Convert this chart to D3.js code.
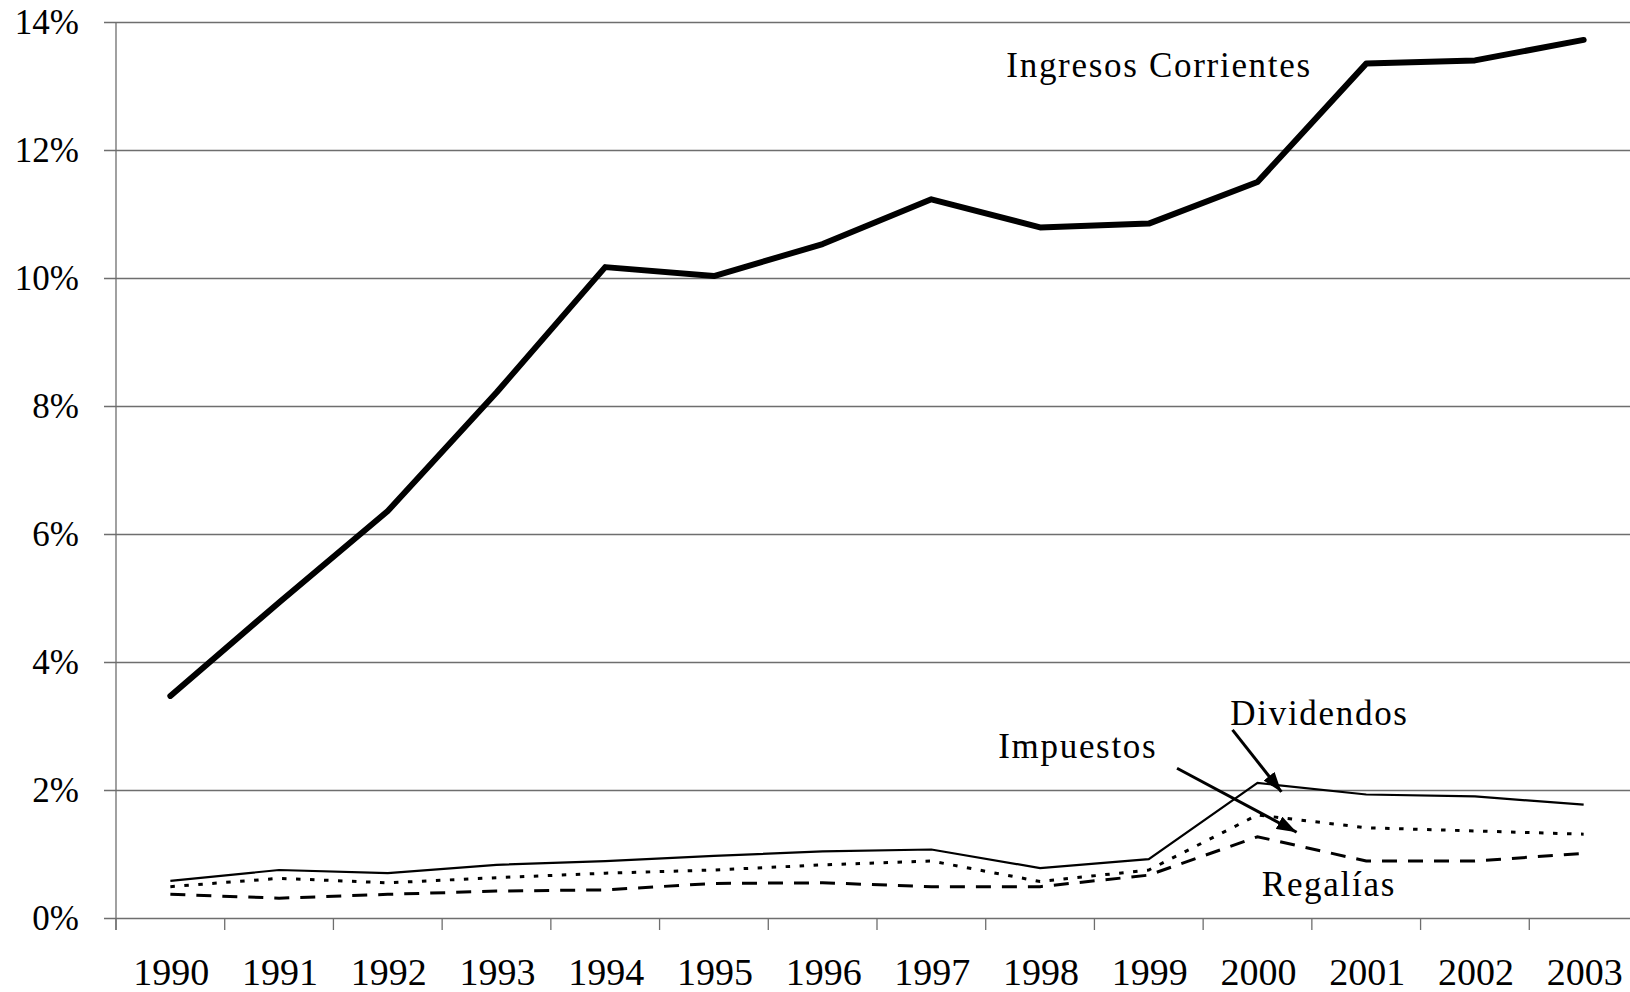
<!DOCTYPE html>
<html lang="es">
<head>
<meta charset="UTF-8">
<script src="https://d3js.org/d3.v7.min.js"></script>
<title>Ingresos</title>
<style>
    body { margin: 0; background: #fff; }
    svg text { font-family: "Liberation Serif", "Times New Roman", serif; fill: #000; }
</style>
</head>
<body>
<svg class="chart"></svg>
<script>
    // data (% of GDP)
    var years = ["1990", "1991", "1992", "1993", "1994", "1995", "1996", "1997", "1998", "1999", "2000", "2001", "2002", "2003"];
    var ingresos = [3.47, 4.93, 6.36, 8.21, 10.17, 10.03, 10.53, 11.23, 10.79, 10.85, 11.50, 13.35, 13.40, 13.72];
    var dividendos = [0.58, 0.75, 0.70, 0.83, 0.89, 0.97, 1.04, 1.07, 0.78, 0.92, 2.11, 1.93, 1.90, 1.77];
    var impuestos = [0.49, 0.62, 0.55, 0.63, 0.70, 0.75, 0.83, 0.89, 0.57, 0.75, 1.61, 1.41, 1.36, 1.31];
    var regalias = [0.37, 0.31, 0.37, 0.42, 0.44, 0.54, 0.55, 0.49, 0.49, 0.67, 1.27, 0.89, 0.89, 1.01];
    var yTicks = [0, 2, 4, 6, 8, 10, 12, 14];

    var W = 1630, H = 992;
    var mLeft = 116, mTop = 22, mRight = 1638, mBottom = 918;

    var svg = d3.select(".chart").attr("width", W).attr("height", H);

    var x = d3.scaleBand().domain(years).range([mLeft, mRight]).padding(0);
    // continuous helper in "band units" for placing the notes
    var xu = d3.scaleLinear().domain([0, years.length]).range([mLeft, mRight]);
    var y = d3.scaleLinear().domain([0, 14]).range([mBottom, mTop]);

    // gridlines + y axis labels
    var yAxis = d3.axisLeft(y)
        .tickValues(yTicks)
        .tickSize(0)
        .tickPadding(0)
        .tickFormat(function(d) { return d + "%"; });
    var gy = svg.append("g")
        .attr("transform", "translate(" + (mLeft - 12) + ",0)")
        .call(yAxis);
    gy.select(".domain").remove();
    gy.selectAll(".tick line")
        .attr("x1", 0)
        .attr("x2", mRight - mLeft + 12)
        .attr("stroke", "#6e6e6e")
        .attr("stroke-width", 1.3);
    gy.selectAll(".tick text")
        .attr("x", -25)
        .attr("dy", "0.33em")
        .attr("font-size", 35)
        .attr("font-family", "Liberation Serif");

    svg.append("line")
        .attr("x1", mLeft).attr("x2", mLeft)
        .attr("y1", mTop).attr("y2", mBottom + 12)
        .attr("stroke", "#6e6e6e").attr("stroke-width", 1.3);

    // x axis ticks at band edges
    var edges = years.map(function(d) { return x(d); });
    svg.selectAll(".xtick")
        .data(edges)
        .enter().append("line")
        .attr("x1", function(d) { return d; })
        .attr("x2", function(d) { return d; })
        .attr("y1", mBottom)
        .attr("y2", mBottom + 12)
        .attr("stroke", "#6e6e6e").attr("stroke-width", 1.3);

    svg.selectAll(".xlabel")
        .data(years)
        .enter().append("text")
        .attr("x", function(d) { return x(d) + x.bandwidth() / 2 + 1; })
        .attr("y", 985)
        .attr("text-anchor", "middle")
        .attr("font-size", 38)
        .text(function(d) { return d; });

    var line = d3.line()
        .x(function(d, i) { return x(years[i]) + x.bandwidth() / 2; })
        .y(function(d) { return y(d); });

    svg.append("path").datum(regalias)
        .attr("d", line).attr("fill", "none")
        .attr("stroke", "#000").attr("stroke-width", 3)
        .attr("stroke-dasharray", "15,11");

    svg.append("path").datum(impuestos)
        .attr("d", line).attr("fill", "none")
        .attr("stroke", "#000").attr("stroke-width", 3)
        .attr("stroke-dasharray", "4.5,9.5");

    svg.append("path").datum(dividendos)
        .attr("d", line).attr("fill", "none")
        .attr("stroke", "#000").attr("stroke-width", 2.2);

    svg.append("path").datum(ingresos)
        .attr("d", line).attr("fill", "none")
        .attr("stroke", "#000").attr("stroke-width", 6)
        .attr("stroke-linejoin", "round")
        .attr("stroke-linecap", "round");

    // notes
    var notes = [
        { t: "Ingresos Corrientes", u: 8.19, v: 13.135 },
        { t: "Dividendos", u: 10.25, v: 3.016 },
        { t: "Impuestos", u: 8.115, v: 2.495 },
        { t: "Regalías", u: 10.54, v: 0.344 }
    ];
    svg.selectAll(".note")
        .data(notes)
        .enter().append("text")
        .attr("x", function(d) { return xu(d.u); })
        .attr("y", function(d) { return y(d.v); })
        .attr("font-size", 35)
        .attr("letter-spacing", 1.7)
        .text(function(d) { return d.t; });

    svg.append("defs").append("marker")
        .attr("id", "ah")
        .attr("viewBox", "0 0 20 14")
        .attr("refX", 20).attr("refY", 7)
        .attr("markerWidth", 20).attr("markerHeight", 14)
        .attr("markerUnits", "userSpaceOnUse")
        .attr("orient", "auto")
        .append("path")
        .attr("d", "M0,0 L20,7 L0,14 Z")
        .attr("fill", "#000");

    var arrows = [
        { u1: 10.27, v1: 2.94, u2: 10.72, v2: 1.97 },
        { u1: 9.76, v1: 2.34, u2: 10.86, v2: 1.34 }
    ];
    svg.selectAll(".arrow")
        .data(arrows)
        .enter().append("line")
        .attr("x1", function(d) { return xu(d.u1); })
        .attr("y1", function(d) { return y(d.v1); })
        .attr("x2", function(d) { return xu(d.u2); })
        .attr("y2", function(d) { return y(d.v2); })
        .attr("stroke", "#000").attr("stroke-width", 3)
        .attr("marker-end", "url(#ah)");
</script>
</body>
</html>
